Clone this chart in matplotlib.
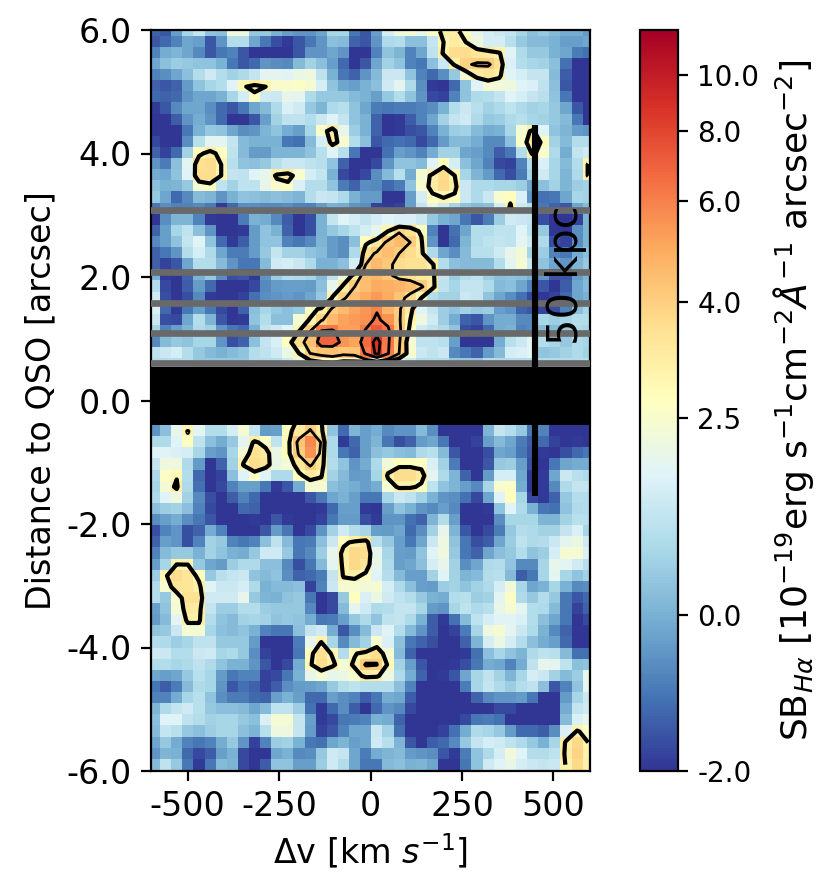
import numpy as np
import matplotlib
matplotlib.use("Agg")
import matplotlib.pyplot as plt
from matplotlib.colors import FuncNorm

plt.rcParams["axes.unicode_minus"] = False

nan = float("nan")

# surface brightness per pixel, top row first
sb_rows = [
[-1.3,-1.5,-.3,.8,1.3,.4,.3,2.2,2.2,.5,.5,0,-.3,-.5,-.5,-.2,.8,.8,-1,-1.5, -.3,1.6,2.2,2.3,2,2.6,3.2,3.2,2.7,2,1.6,1.4,1.3,.8,.3,.5,.2,-.1,-.1,-.4],
[-1.5,-1.2,-.8,-.2,-.3,-1.5,-.5,1,1,-.2,-1,-1.6,-1.9,-1.5,-1,-.5,.3,.2,-1.3,-1.5, -.5,.9,1,.3,.3,1.3,3,3.3,3,2.2,1.6,1.6,1.1,.5,.2,.2,0,-.3,-.3,-.2],
[-.8,-.1,.1,-.2,-.7,-1.5,-1,-.8,-1.5,-2,-2,-2,-2,-1.5,-.5,-.5,-.2,-.5,-2,-2, -.8,.4,.1,-.8,-.2,1.2,3.2,3.7,3.7,3.5,3.4,3.1,1.8,.9,.5,.5,0,-.2,-.9,-1.1],
[-.2,.3,.6,.5,.4,.4,0,-1,-1.5,-1.2,-.5,-.6,-.7,.2,.7,.3,-.3,-1.2,-2,-1.5, -.2,.7,.4,-.8,-1,.3,1.4,3.2,3.9,4.1,4.1,3.6,1.7,1,.8,.7,.3,-1.1,-2,-2],
[-.8,-.6,-.2,.3,1,1.5,1,.7,.9,1.3,1.9,1.9,1.8,2.1,2.2,1.2,0,-1,-1.3,-.5, .2,1.4,1.4,.4,-.8,-1.2,-.6,.5,2.4,3.3,3.5,3.2,1.8,1.6,1.3,1.3,.2,-1.4,-2,-2],
[-1.3,-1.5,-1.3,-.4,.4,.8,1,1.8,2.9,3.3,3,2.5,2.5,2.6,2.4,1.6,.4,-.2,-.3,0, .3,1.5,1.9,.9,-.6,-1.9,-2,-1.2,.4,1.8,2.4,2.3,2.2,1.8,1.7,1.2,.3,-1.5,-2,-2],
[-1.2,-1.3,-1.2,-.5,-.2,-.2,0,.8,1.6,2.7,1.5,1.4,2,1.9,.9,.5,.5,.5,.2,0, -.3,.5,1,.4,-.5,-1.7,-1.8,-.8,.4,.9,1,1.3,1.8,1.6,1.3,1.1,.4,-1,-2,-2],
[-1.9,-1.5,-.7,-.2,-.2,-.6,-1.2,-1.5,-1,-.2,.2,.9,1.7,1.5,.5,.1,.9,1.1,.4,-.2, -.9,-1,-.9,-.9,-.8,-.6,0,1,1.4,1.1,.7,.9,1.2,.9,.7,.8,.5,-.2,-1.5,-2],
[-2,-2,-1.4,-.5,-.1,-.5,-1.2,-2,-2,-1.5,-.3,.7,1.2,1.2,1,1.4,1.8,1.3,.4,0, -1.3,-2,-1.9,-1.4,-.8,-.2,.7,1.3,1.5,.9,.5,.6,.9,1.1,.8,.7,.5,.2,-1,-2],
[-2,-2,-2,-1,0,.5,.4,-.2,-.6,-.5,.1,.4,-.1,-.3,.8,2.6,3.4,2,.6,0, -1.3,-2,-1.9,-1.6,-1.5,-.8,0,.6,.7,.2,-.1,0,.8,2.4,3.2,1.8,.4,.1,-.4,-.5],
[-1.7,-2,-2,-.6,1.1,1.9,1.9,1.3,.2,0,0,0,-1,-1.1,.2,1.6,3.4,2.5,1,.3, -1.5,-1.2,-1.1,-1.2,-1.7,-1.2,-.4,.2,.2,-.1,-.7,-.7,.3,2.6,3.5,2.8,.7,.2,1,1],
[-1.3,-1.8,-1.2,.7,2.8,3.3,2.7,1.2,.2,-.4,-.4,.1,.1,.1,.4,1.1,1.8,1.1,-1,-2, -2,-1.1,-.3,-.5,-.8,-.1,.7,.7,-.2,-.3,-.7,-1.4,-1,1,3.2,2.5,.9,-.1,1.3,1.5],
[-.5,-.9,.3,1.9,3.6,3.7,3,1.1,.4,.3,.5,1.1,1.4,1.4,1.2,1.1,.4,-1.3,-2,-2, -1.7,-.5,.4,.4,.2,1.8,2.8,1.6,.3,-.2,-.8,-1.7,-1.8,-.8,1,1.7,.8,.2,1,3.1],
[-.1,-.2,.4,1.8,3.7,3.7,3,1.3,1.2,1.8,2,3.2,3.4,2.5,1.6,1.3,0,-1.7,-2,-1.7, -.6,.2,1.1,-.1,2.4,3.2,3.7,3,.8,.1,-.4,-1.2,-1.6,-.9,.8,1.5,.8,.1,.9,3.1],
[.3,0,.1,.5,2.4,2.7,1.2,.7,1.2,1.2,2,2.5,2.7,1.7,1,1,.4,-.9,-1.3,-.6, -.7,-1.2,-.9,.4,2.5,3.3,3.8,3.3,1.4,.9,.9,.8,.8,.6,-.2,.3,.7,.1,.6,.7],
[.5,-.2,-1.2,-.7,.2,.1,-.5,0,.4,.3,.2,.3,.2,.1,1,1.4,1.3,.9,0,-.4, -.4,-2,-2,-.3,1.6,2.8,3,2.8,1.4,.9,1.4,2.5,2.8,1.7,-.5,-1.1,-1,-.2,.8,.7],
[-1,-.6,-.8,-.8,-.7,-.9,-1.9,-1.2,-.6,-.6,-.7,-.7,-.6,-.8,-.8,-.4,0,-.1,-.5,-.6, -1.8,-1.9,-1.8,-.3,1.3,2,1.5,.8,.4,.2,.3,1.6,3.2,1.5,1.2,-1,-1.3,-1.5,-.2,.2],
[-2,-.6,.1,.1,-.8,-1.9,-2,-2,-.9,0,-.1,-.7,-1.4,-2,-1.6,0,1.3,1.8,1.6,1.3, 1.6,1.8,1.7,1.7,1.4,.5,0,-.2,-1,-1.5,-.9,.6,1.5,1.4,1.3,-1.6,-2,-2,-1.8,.1],
[-1.3,-.3,.8,1.2,.3,-.5,-2,-2,-1.9,-.4,.4,0,-1.3,-2,-1.6,0,.5,.8,1.2,1.6, 2,3,3.9,3.6,2.8,-.8,-2,-1.1,-.2,1,1,1.2,1.2,1.8,1.2,.5,-2,-2,-.6,.1],
[-.7,-.3,.4,1.3,1.8,.4,-1.2,-1.9,-1.4,-.4,.4,.4,-.8,-1,-.7,.1,-.4,-.6,.3,2.8, 3.4,4.2,4.6,4,3.2,-.5,-2,-1.2,.1,1,1.2,1.3,1.2,1.9,1.5,.9,-1.6,-1.8,-.6,.1],
[-1.3,-1,-.5,1,1.6,.9,-.2,-.9,-.9,-.4,.5,1.3,.7,.7,.4,.2,-.4,-.6,.9,3.7, 4.1,4.5,4,3.7,3.3,.9,-.2,-.6,.2,1.1,1.1,1.5,2,2.3,.8,.6,-.8,-1,-.1,.3],
[-1.3,-1.8,-1.5,-.2,1,1,.2,-.5,-1,-1,.2,1.5,1.6,1.4,.9,0,0,.3,1.6,4, 4.6,4.2,3.7,3.6,3.6,3.2,1,.3,.2,.2,.2,1,1.9,2.4,1.4,.4,-.2,-.5,.1,.5],
[0,-1.9,-2,-1.3,0,.5,-.6,-1.6,-1.5,-1.9,-.5,.6,1,.9,.8,.2,1.2,2.2,3.3,4.5, 4.7,4.2,3.7,3.6,3.4,3.3,1.3,.6,1,1.2,.6,.3,.4,.3,0,-.5,-1.5,-1.5,-.4,.1],
[1,-1.7,-2,-1.4,-.4,-1.2,-2,-2,-2,-1.7,-.7,-.4,-.3,-.3,-.4,.3,2,3.2,4,4.5, 5,4.9,4.7,4.5,4.1,3.4,1.2,.8,1.3,1.3,.9,.2,.3,-.2,-.8,-1.5,-2,-1.4,-.2,.2],
[1.5,-1.6,-2,-1.6,-.7,-1.9,-2,-2,-1.8,-1.1,-.6,-.5,-.4,-.5,-.2,.5,3.1,3.9,4.4,5, 5.4,5,4.3,3.7,3,1,.7,.7,1.4,1.3,.4,-.2,-.6,-1.1,-1.7,-2,-1.8,-1.2,-.2,0],
[1.7,-1.2,-1.9,-1,-.3,-1,-1.7,-2,-1.3,.3,.8,.5,.3,.5,2.6,3.2,4.1,4.6,5.2,5.5, 5.9,4.8,4.1,3.3,1.8,1.3,.6,.4,.7,.5,.6,-.3,-.5,-1.3,-1.5,-1.8,-1.6,-.8,.3,.8],
[1.4,-1.6,-1.7,-.2,1,.1,-1.5,-2,-1.9,.4,1,.3,.3,2.4,3.1,3.9,4.6,5.2,5.4,5.6, 6.2,5.6,4.1,3,2.2,1.5,.6,-.1,-1.3,-1.5,-.5,-.1,-.1,-.7,-.7,.8,.6,.8,1,1],
[.8,-.8,-.3,.1,.9,.7,-.5,-1,-1.2,0,1.2,1.5,1.8,3,4,6.1,6.2,5.3,5.3,6.1, 7.3,6.3,4.2,2.8,1.5,1.2,.9,.4,-1.6,-1.8,-1.2,-.1,0,-.8,-.7,.2,.2,.5,.9,.8],
[-.7,.2,.5,.4,.8,.8,-.5,-1.6,-1.3,.3,1.3,1.7,2.7,3.7,4.4,6.9,6.9,5.5,5.2,6.7, 8.7,6.2,4.1,2.4,1.2,1.2,1.1,-.3,-2,-2,-2,-.1,1.1,1.4,1.9,1,.8,.5,.9,.8],
[1.2,1.4,1.6,1,.5,.2,0,.2,.4,1,1.2,1.5,2.1,3,4,4.3,4.5,4.2,4.3,6.2, 8.4,6.1,4,2.5,1.4,1.2,1.4,-.7,-1,-1.3,-.4,.2,1.6,1.7,1.9,.4,.5,.7,.9,.7],
[1,1,1,1,.5,.5,.5,.5,.5,1,1,1,1.5,2,2.4,2.6,2.7,2.5,2.5,2, 2,2,1.8,1.5,1,1,1,.5,.5,.5,1,1,1,1,1,1,1,1,1,1],
[nan] * 40,
[nan] * 40,
[nan] * 40,
[nan] * 40,
[0,0,0,0,0,0,0,0,0,0,0,0,2,3.3,3.5,3.1,0,0,0,0, 0,0,0,0,0,0,0,0,0,0,0,0,0,0,0,0,0,0,0,0],
[-.5,.3,2,3.05,1.9,1,1,1.6,2.4,1.3,-.4,-.3,2.8,3.4,4.1,3.3,.4,-1.2,.1,-.3, -.1,-.7,-.5,-.5,.2,-.6,-2,-2,-2,-2,.1,1.3,1,.5,-1,-.8,-2,-2,-2,-2],
[.9,.9,1.8,2.7,1.2,.3,-.1,.5,1.9,3.2,2.6,1.2,2.8,4.3,5.8,3.9,.9,-1.9,-1.2,-.3, .1,-1,-1.6,-1.3,-.4,-.2,-1,-2,-2,-1.8,-.3,.2,-.2,-.9,-1.4,-1.2,-1.8,-2,-1.9,-2],
[1.8,1.8,1.7,1.6,.8,-.3,-.5,.8,2.4,3.6,3.4,2.1,2.8,4.1,5.6,3.7,.9,-1,-1.3,-.3, .3,.5,.3,.2,.9,1.1,.2,-1.5,-2,-2,-1.6,-.2,-.3,-1,-1.5,-1.9,-2,-1.6,-1.2,-1],
[1.3,2.2,2.2,.9,-.4,-2,-1.3,.7,3.1,3.7,3.5,2.1,2.4,3.5,4.1,3.5,1,.4,-.5,-.1, .9,2.3,2.8,2.8,2.7,1.7,.7,-.9,-2,-2,-1.5,.5,.6,-.3,-1.6,-2,-1,-.2,-.1,-.1],
[.9,2.6,2.9,1,-1.2,-2,-1.8,.3,1.8,2.6,1.8,.9,.9,2.8,3.4,3.1,.7,.2,-.4,-.3, .8,3.2,3.7,3.7,3.4,1.9,.9,.1,-1.3,-2,-.4,1.6,1.6,-.2,-2,-1.9,-.2,1.4,1.1,.9],
[.8,2.4,3.2,.9,-1.1,-2,-1.7,-.8,-.3,-.3,-1,-1.9,-1.5,-.1,2.4,2.4,.3,.1,-.1,-.3, -.1,2.4,3.2,3.2,2.8,1.2,.4,.1,-.3,-.7,.8,2.5,2.6,-.1,-2,-1.9,-.7,.9,1.3,1.3],
[.9,1.8,2.2,.7,-.7,-1.6,-2,-1.4,-.8,-1.2,-2,-2,-2,-2,-1.5,-1,-.2,0,-.3,-1, -1,.8,1.4,1.2,.7,0,-.5,-.6,-1.1,-1.7,-.2,1.8,2.7,.8,-1.7,-1.9,-1.3,.5,1,1],
[.3,.6,.7,.3,-.8,-1.7,-2,-2,-1.2,-1.3,-2,-2,-2,-2,-2,-1.9,-1.2,-.3,-.3,-1.9, -2,-.3,.4,0,-.5,-.7,-.3,-.7,-2,-2,-1.9,.4,1.8,.9,0,-1,-1.1,.4,.9,1],
[-.6,-.3,-.1,-.6,-1,-1.5,-2,-2,-2,-1.9,-2,-1.5,-1.9,-2,-2,-1.8,-1,-.4,-.4,-1.6, -1.9,-.5,-.5,-1.1,-1.3,.1,1,-.3,-2,-2,-2,-.6,.8,.8,.8,.1,.1,.7,1.1,1.1],
[-1.6,-.8,-.5,-1.6,-1.3,-.1,-.8,-2,-2,-2,-1.5,-.4,-1,-2,-1.7,-.5,.7,1.5,1,.8, -.3,-.4,-.2,-1.2,-.6,.7,2,.1,-1.5,-2,-1.7,-.9,.5,1,.9,.7,.7,1.3,1.7,.8],
[-1.3,-.3,-.5,-1.6,-.8,.7,.5,-.8,-1,-.8,.3,1.2,.2,-1,-.9,.3,1.4,2.8,3.2,3.5, 1.1,.5,-.3,-1,-.2,1.4,2.2,.4,-1,-1.6,-1.4,-.2,.6,1.2,.9,1,1.4,1.9,2.1,1.5],
[-.8,.2,.5,.5,0,.7,.4,0,-.1,.5,1.5,1.5,.5,-1,-.7,.6,2,3.3,3.8,3.7, 2,.8,-.3,-.4,.4,1.8,2.2,.5,-1,-1.3,-.2,.3,.5,1,.4,.6,1.6,2.4,2.4,1.7],
[-.3,.8,3.05,3,.5,-.2,-.4,.6,.9,.9,.3,.3,-.7,-1.6,-1,.2,1.9,3.2,3.8,3.5, 2,.9,-.3,-.2,.3,1.6,2,.7,-.6,-.2,.9,1,.4,-.7,-.7,.8,2,1.9,1.5,1.1],
[.6,2.9,3.7,3.5,2.8,.5,1.1,1.3,1.4,.4,.2,.4,-.6,-1.3,-1.2,-.9,1.3,3.1,3.2,2.8, 1.8,1,.2,-.3,-.3,.7,1.8,.7,.1,.2,1,1.1,.2,-1.4,-1,.8,1.9,.8,.4,.7],
[1,2.5,3.5,3.5,3.2,1.8,1.4,1.4,1.6,.9,0,.2,.2,.3,-1.8,-.8,1.4,2.4,2.5,2.3, 2.4,1.6,.9,.3,-.3,-.4,.6,.7,.4,.7,.9,1.6,2.3,.8,-.2,0,.8,0,-.7,-.6],
[1,.5,2.5,3.6,3.6,1.5,1.5,1.5,2,.5,.1,0,.4,.5,-1,-2,-1.7,.5,2.7,1.7, 2.1,1.5,1.2,1,.5,0,-.1,1,1.1,.6,.7,1.9,2.6,.9,.5,1,.5,-1,-1.5,-1.2],
[-.3,.4,2.4,3.4,3.3,1.3,.6,.6,1,1,.6,.5,.5,.5,-.7,-2,-1.7,.2,1.9,1.5, .9,1,1.3,1.3,.8,-.4,-.5,.8,1.2,.9,1.1,2,2.4,1.9,1,.9,.2,-1,-1.8,-1.3],
[-.4,.2,1.9,3.2,3.2,1,.4,.2,.7,.8,.7,.4,.5,.4,-.1,-1,-.9,-.3,.5,.9, .4,1.2,1.3,.9,0,-1.4,-1.9,-1.1,.2,1.2,1.6,1.8,1.8,1.7,1,.3,-.2,-1,-2,-1.7],
[.4,.5,1.4,2.4,2.4,.8,.3,.2,.4,0,-.8,-1,-1,.3,1.3,1.5,-.1,-1.5,-.6,.2, 1.4,1.8,1,.2,-.5,-1.4,-2,-1.8,-.9,.8,2.2,2.4,1.9,1.4,.9,0,-.7,-1.3,-2,-2],
[1,.9,.6,.8,1.2,1.2,.5,.5,.5,-.4,-2,-2,-2,-.9,2,3.05,.8,-.7,.2,.7, 2.5,1.7,.3,-1,-1.3,-1.6,-2,-2,-1.3,.1,1.6,2.1,1.6,1,.3,-.1,-.3,-1.2,-2,-2],
[1.5,1.4,1,1,1.4,1.5,.8,.9,.5,-.6,-1.8,-2,-2,-1,2.8,3.6,2.9,1,2.9,3.4, 3.7,2.4,.2,-1.3,-2,-2,-2,-2,-1.9,-1.1,.3,.8,.4,.1,.9,1.2,1.1,.2,-1.1,-1.1],
[1,1,.8,.9,1.2,.9,.4,0,0,-.5,-1.5,-2,-1.7,-.1,2.9,3.7,3.2,2.4,3.2,4.1, 4.05,2.9,.7,-.3,-1.5,-2,-2,-1.9,-1.6,-1,-.1,-.2,-.8,-.1,1.2,2,1.9,1.2,.3,.4],
[-.2,-.3,-.2,.5,1.1,.8,-.4,-1,-.8,-.8,-1.8,-1.7,-1,0,2,2.4,2,2.1,2.5,3.3, 3.2,2.2,.9,-.1,-1.3,-2,-1.9,-1.5,-.2,.8,1.2,.7,.1,.8,1.6,1.4,.7,.2,.6,2],
[-1,-1.4,-.9,.2,.9,.8,-.5,-1.5,-1.1,-1.3,-1.8,-1.4,-.6,-.4,-.3,-.2,.5,1,1.2,1, 1,1,.3,-.8,-2,-2,-2,-2,-.9,.8,1.3,.9,.6,1,1.2,.3,-1.5,-.8,.4,2],
[-.8,-.8,-.1,.8,1.1,.4,-.6,-.9,-.9,-1.2,-1.3,-.3,0,-.3,-1.2,-1.2,-.3,-.6,-.8,-1.4, -1,-.1,-.2,-1.4,-2,-2,-2,-2,-2,-1.3,-.7,-.5,-.5,-.4,-1,-2,-2,-.4,.8,1.4],
[.1,.9,1.3,1.5,1.1,.5,.3,.3,.2,-.2,.2,1.2,1.2,.6,-1.1,-1.9,-1.2,-.6,-1.4,-2, -1.2,-.5,-.7,-1.7,-2,-2,-2,-2,-2,-2,-2,-1.7,-1.7,-2,-2,-2,-2,-.1,1.3,1.5],
[.3,1.8,1.8,1.2,1,.7,.8,.8,.5,.3,1.7,2.4,2.4,1.3,-.3,-1.9,-1.7,-1,-.9,-.8, 0,-.1,-1.3,-2,-2,-2,-2,-2,-1.7,-1,-.9,-1.1,-2,-2,-2,-2,-2,.2,1.7,2],
[.2,1.3,1.1,.5,.3,.6,.8,.8,.3,.1,1.1,2.2,2.2,1.3,-.4,-1.8,-1.5,-.8,-.2,-.2, 1.4,.7,-1.1,-2,-2,-2,-1.8,-1.1,-.1,.9,.8,.5,-.4,-1.2,-1.2,-1.4,-.6,1.7,3.1,2.6],
[-.2,.5,-.1,-.8,-1,-.8,-.1,.5,-.5,-1.8,-.8,.6,.7,0,-1,-1.1,-.2,.1,-.3,-.2, 1.5,1.1,.1,-1.5,-2,-1.4,-1.2,-.7,.5,1.3,1.6,1.5,1.2,.9,.5,0,.8,3.2,3.8,3],
[-.5,.1,0,-1.2,-1.7,-1.4,-.3,0,-1.7,-2,-2,-.2,0,-.7,-.6,.5,1.5,1.3,-.2,-.9, -.1,.1,.2,-.4,-.5,-.6,-1.5,-1.9,-.9,.4,.9,1.6,2.3,1.8,1,1,1.2,3.3,3.9,3.1],
[.2,1.2,.5,-1,-1.9,-1,.2,.1,-1.7,-2,-1.4,.4,.4,-.3,-.3,.6,1.5,1,-.2,-1, -1,.2,.3,0,.1,-.2,-2,-2,-1,.4,1.5,1.8,2,1.6,1.4,1.3,1.4,3.1,3.8,3.2],
]

# colour scale: data value -> position along the colour bar
scale_values = [-2.0, 0.0, 2.5, 4.0, 6.0, 8.0, 10.0, 11.8]
scale_positions = [0.0, 0.211, 0.476, 0.633, 0.769, 0.864, 0.939, 1.0]
cbar_ticks = [-2.0, 0.0, 2.5, 4.0, 6.0, 8.0, 10.0]

contour_levels = [3, 4, 6, 8]
contour_widths = [1.5, 1.0, 1.0, 1.0]
slit_gaps = [3.08, 2.08, 1.58, 1.09, 0.6]

X_EDGES = (-605.7, 610.3)
Y_EDGES = (-5.988, 6.072)

sb = np.array(sb_rows, dtype=float)
ny, nx = sb.shape
dx = (X_EDGES[1] - X_EDGES[0]) / nx
dy = (Y_EDGES[1] - Y_EDGES[0]) / ny
xc = X_EDGES[0] + dx * (np.arange(nx) + 0.5)
yc = Y_EDGES[1] - dy * (np.arange(ny) + 0.5)


def forward(v):
    return np.interp(v, scale_values, scale_positions)


def inverse(p):
    return np.interp(p, scale_positions, scale_values)


norm = FuncNorm((forward, inverse), vmin=-2.0, vmax=11.8)

W, H = 831, 877
fig = plt.figure(figsize=(W / 200, H / 200), dpi=200)
ax = fig.add_axes([151 / W, 1 - 771 / H, 439 / W, 741 / H])
cax = fig.add_axes([640 / W, 1 - 771 / H, 38 / W, 741 / H])

im = ax.imshow(sb, cmap="RdYlBu_r", norm=norm, origin="upper", aspect="auto",
               interpolation="nearest",
               extent=(X_EDGES[0], X_EDGES[1], Y_EDGES[0], Y_EDGES[1]))
ax.contour(xc, yc, sb, levels=contour_levels, colors="k",
           linewidths=contour_widths, zorder=2)

for y in slit_gaps:
    ax.axhline(y, color="dimgrey", lw=2.4, zorder=3)
ax.axhspan(-0.39, 0.54, color="k", lw=0, zorder=4)

ax.plot([450, 450], [-1.54, 4.46], color="k", lw=2.2, solid_capstyle="butt", zorder=5)
ax.text(534, 2.03, "50 kpc", rotation=90, ha="center", va="center",
        fontsize=15, zorder=6)

ax.set_xlim(-600, 600)
ax.set_ylim(-6, 6)
ax.set_xticks([-500, -250, 0, 250, 500])
ax.set_yticks([-6, -4, -2, 0, 2, 4, 6])
ax.set_yticklabels([f"{v:.1f}" for v in [-6, -4, -2, 0, 2, 4, 6]])
ax.tick_params(labelsize=12)
ax.set_xlabel(r"$\Delta$v [km $s^{-1}$]", fontsize=12, labelpad=3)
ax.set_ylabel("Distance to QSO [arcsec]", fontsize=12, labelpad=3)

cb = fig.colorbar(im, cax=cax)
cb.set_ticks(cbar_ticks)
cb.set_ticklabels([f"{v:.1f}" for v in cbar_ticks])
cb.ax.minorticks_off()
cb.ax.tick_params(labelsize=10)
cb.set_label(r"SB$_{H\alpha}$ [10$^{-19}$erg s$^{-1}$cm$^{-2}\mathit{\AA}^{-1}$ arcsec$^{-2}$]",
             fontsize=13, labelpad=4)

fig.savefig("out.png", dpi=200)
